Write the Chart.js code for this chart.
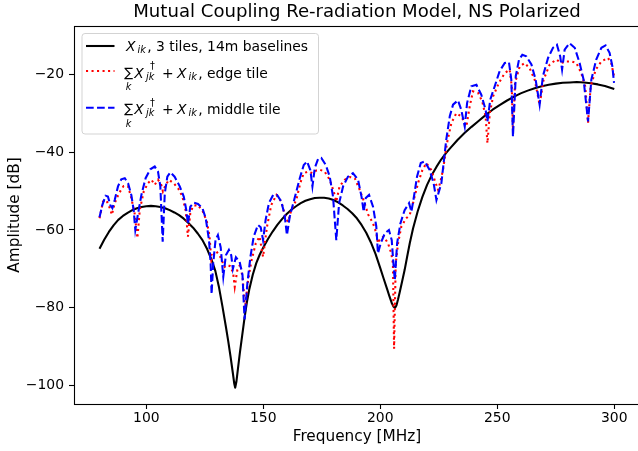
<!DOCTYPE html>
<html>
<head>
<meta charset="utf-8">
<title>Mutual Coupling Re-radiation Model, NS Polarized</title>
<script src="https://cdn.jsdelivr.net/npm/chart.js@4.4.1/dist/chart.umd.min.js"></script>
<style>
  html, body { margin: 0; padding: 0; background: #fff; overflow: hidden; }
  #wrap { width: 660px; height: 451px; }
</style>
</head>
<body>
<div id="wrap"><canvas id="mutualCouplingChart" width="660" height="451"></canvas></div>
<script>
// [frequency MHz, amplitude dB]
const crossCoupling = [
  [80, -64.8], [82, -62.5], [84, -60.5], [86, -58.8], [88, -57.4], [90, -56.4], [92, -55.6], [94, -54.9],
  [96, -54.4], [98, -54.1], [100, -53.9], [102, -53.8], [104, -53.9], [106, -54.1], [108, -54.4], [110, -54.9],
  [112, -55.5], [114, -56.2], [116, -57.1], [118, -58.2], [120, -59.4], [122, -60.9], [124, -62.6], [126, -64.9],
  [128, -67.8], [129.5, -70.5], [131, -74.5], [132.5, -79.5], [134, -84.8], [135, -88.5], [136, -92.5], [137, -96.8],
  [137.6, -99.5], [138, -100.5], [138.5, -99], [139.2, -95.5], [140, -91.5], [141, -87], [142, -82.5], [143, -78.5],
  [144, -75.3], [145.5, -71.5], [147, -68.5], [148.5, -66.3], [150, -64.5], [152, -62.3], [154, -60.4], [156, -58.7],
  [158, -57.2], [160, -55.9], [162, -54.8], [164, -53.9], [166, -53.1], [168, -52.5], [170, -52.1], [172, -51.8],
  [174, -51.7], [176, -51.7], [178, -51.9], [180, -52.3], [182, -52.9], [184, -53.7], [186, -54.6], [188, -55.7],
  [190, -57.0], [192, -58.7], [194, -60.7], [196, -63.2], [198, -66.2], [200, -69.8], [201.5, -72.6], [203, -75.3],
  [204, -77.2], [205, -78.9], [205.7, -79.7], [206.3, -80], [206.9, -79.4], [207.6, -77.8], [208.3, -76], [209.3, -73.3],
  [210.4, -70.3], [211.5, -66.8], [212.6, -63.4], [214, -59.6], [216, -55.2], [218, -51.5], [220, -48.4], [222, -45.9],
  [224, -43.8], [226, -41.9], [228, -40.3], [230, -38.9], [233, -36.9], [236, -35.1], [239, -33.5], [242, -32],
  [245, -30.5], [248, -29.1], [251, -27.9], [254, -26.8], [257, -25.8], [260, -24.9], [263, -24.2], [266, -23.6],
  [269, -23.1], [272, -22.7], [275, -22.4], [278, -22.2], [281, -22.1], [284, -22.0], [287, -22.1], [290, -22.3],
  [293, -22.6], [296, -23.0], [298, -23.4], [300, -23.8]
];

const edgeTile = [
  [80, -57], [81.5, -52.7], [82.9, -52.3], [84.4, -54.4], [85.3, -56.1], [86.5, -53.1], [88.3, -50.6], [90.3, -48.7],
  [92.2, -48.8], [93.6, -51.8], [95, -55.7], [96.2, -62.1], [97.2, -54.9], [98.9, -50.1], [100.7, -48], [102.2, -47.1],
  [103.6, -48.4], [105, -47.1], [106.4, -48.4], [107.1, -50.1], [108.3, -48.4], [109.7, -47.1], [111.7, -48], [113.6, -49.3],
  [115.4, -51.4], [116.8, -54.9], [117.8, -61.7], [118.8, -55.7], [120, -53.8], [122.1, -53.6], [124.2, -55.3], [125.9, -57.9],
  [127, -61.5], [127.8, -67.7], [128.5, -66.5], [130, -65.5], [131.6, -66.9], [133.5, -69.5], [134.6, -69], [135.9, -69.3],
  [137.1, -71], [137.8, -74.6], [138.9, -70.3], [140.2, -68.8], [141.2, -72.5], [142.2, -80], [143.5, -73], [144.9, -68],
  [146.8, -63.4], [148.4, -61.7], [149.9, -66.9], [151.6, -59.1], [153.4, -53.6], [155.6, -51], [157.7, -52.7], [159.6, -57],
  [160.6, -57.9], [162, -54.8], [164.1, -52.3], [165.8, -48], [167.3, -45.4], [169.1, -45], [171, -45.4], [172.7, -44.7],
  [174.1, -44.5], [176.2, -45], [178.4, -47.1], [180.1, -50.1], [181.2, -52.7], [182.6, -48.8], [184.8, -47.1], [187, -46.4],
  [189.1, -46.7], [191.2, -49.7], [193.3, -53.1], [194.8, -56], [196.9, -58.3], [198.3, -60.8], [199, -63.4], [200, -62.1],
  [201.5, -61.7], [203.3, -63.4], [204.7, -66], [205.4, -68.6], [205.9, -90.5], [206.6, -68.6], [207.6, -63.4], [209, -59.1],
  [211.1, -57], [212.6, -56.1], [214, -53.1], [216.1, -48], [218, -44.6], [219.7, -42.8], [221.8, -44.6], [223.7, -48],
  [224.7, -49.7], [225.7, -47.6], [226.8, -44.6], [228.5, -37.7], [230.4, -32.5], [232.5, -30], [234.6, -30.8], [236.8, -33.4],
  [238.2, -28.3], [239.6, -24.4], [241.8, -24.8], [243.6, -27], [245, -30.8], [245.8, -37.7], [246.8, -30], [248.2, -25.7],
  [250.7, -22.2], [253.2, -19.7], [255.3, -18.8], [256.2, -23.1], [256.7, -34.3], [257.6, -22.2], [259.6, -18], [261.7, -17.1],
  [263.8, -18.4], [266, -21.4], [268.1, -27.8], [269.8, -21.4], [272.4, -17.5], [275.2, -16.2], [277.4, -17.1], [279.2, -16.7],
  [281.6, -16.7], [283.8, -17.1], [285.9, -19.7], [287.6, -23.1], [288.8, -32.5], [289.9, -23.1], [292.1, -18.8], [294.5, -16.7],
  [297.3, -15.8], [298.7, -17.1], [299.9, -20.5]
];

const middleTile = [
  [80, -56.7], [81.2, -53.6], [82.6, -51.2], [83.6, -51.4], [84.6, -53.6], [85.5, -54.4], [86.5, -52.3], [87.9, -48.8],
  [89.3, -47], [90.8, -46.7], [92.2, -48], [93.6, -51], [94.6, -54.9], [95.3, -60], [96.5, -55.7], [97.9, -51],
  [99.7, -46.7], [101.7, -44.4], [103.6, -43.7], [105, -45], [106, -48.8], [107, -63], [107.9, -50.6], [109, -46.3],
  [110.3, -45.2], [112.1, -46.3], [114.3, -48.8], [116, -51.4], [117.1, -54.9], [117.8, -58.5], [118.8, -54], [120.3, -53],
  [122.1, -53.3], [124, -54.4], [125.4, -57], [126.8, -62.6], [127.5, -68.6], [127.9, -76.5], [128.6, -68.6], [129.6, -62.5],
  [130.6, -61.3], [131.8, -64.5], [132.9, -72], [134, -66.5], [135.3, -65.1], [136.3, -66.5], [137, -70], [138.3, -67],
  [139.9, -68.2], [141.1, -71.5], [142, -83], [143.2, -73.7], [144.5, -66.9], [145.9, -61.7], [147.7, -58.7], [148.9, -59.3],
  [149.9, -62.6], [151, -57.4], [152.4, -53.1], [154.2, -51], [155.9, -51], [157.7, -52.7], [159.1, -56.1], [160.1, -61.3],
  [161.3, -56.6], [163.4, -51.8], [165.6, -46.7], [167.3, -43.3], [168.7, -42.4], [170.1, -44.6], [171, -48.8], [172, -44.1],
  [173.4, -41.8], [174.8, -41.5], [176.7, -43.3], [178.4, -46.3], [179.8, -51.4], [181.2, -62.6], [182.4, -53.1], [184.1, -48.8],
  [186.2, -46.3], [188.3, -45.4], [190.5, -47.1], [192, -51.5], [192.9, -55.3], [193.8, -51.8], [195.2, -51], [196.9, -54],
  [198.3, -59.1], [199, -66], [200.2, -63.4], [201.9, -60.9], [203.7, -60], [204.9, -62.6], [205.4, -66.9], [206.2, -72.9],
  [207.2, -63.4], [208.6, -58.3], [210.4, -54.9], [212.3, -53.1], [213.3, -55.3], [214.4, -51.4], [215.7, -46.3], [217.3, -42.8],
  [219, -42.4], [221.1, -44.6], [222.8, -48], [224, -52.3], [226.1, -48], [228.2, -36.8], [229.7, -30.8], [231.1, -27.8],
  [233.2, -26.7], [234.6, -29.1], [236.1, -33.4], [237.1, -27.4], [238.9, -23.1], [241.1, -22.7], [243.2, -25.3], [245, -29.1],
  [245.8, -32.1], [247, -26.5], [248.9, -23.1], [251, -19.2], [253.2, -17.1], [255, -16.9], [256, -21.4], [256.7, -36],
  [257.9, -20.5], [259.3, -16.2], [260.7, -15], [262.4, -15.4], [264.6, -17.5], [266.4, -21.4], [268.1, -27.8], [269.5, -20.5],
  [271.7, -15.8], [273.8, -13.2], [275.5, -12.4], [276.9, -15.4], [277.7, -18.8], [278.8, -13.7], [280.9, -12], [283.1, -13.2],
  [285.2, -17.1], [286.9, -21.4], [288.8, -32.1], [290.2, -21.4], [292.3, -16.2], [294.5, -13.2], [296.3, -12.6], [298, -14.5],
  [299.2, -18], [299.9, -22.2]
];

const xTickValues = [100, 150, 200, 250, 300];
const yTickValues = [-100, -80, -60, -40, -20];

const FONT = '"DejaVu Sans"';
const TEXT_PX = 13.9;
const SUB_PX = 9.7;
const LW = 2.08; // 1.5pt at 100 dpi

const toPoints = (rows) => rows.map(([x, y]) => ({ x, y }));
const minusSign = (v) => String(v).replace('-', '\u2212');

// draw text so that its ink starts at inkLeft; returns ink right edge
function inkText(ctx, text, size, italic, inkLeft, baseline) {
  ctx.font = (italic ? 'italic ' : '') + size + 'px ' + FONT;
  const m = ctx.measureText(text);
  const x = inkLeft + m.actualBoundingBoxLeft;
  ctx.fillText(text, x, baseline);
  return x + m.actualBoundingBoxRight;
}

function drawSum(ctx, inkLeft, inkTop, inkHeight) {
  ctx.font = TEXT_PX + 'px ' + FONT;
  let m = ctx.measureText('\u2211');
  const size = TEXT_PX * inkHeight / (m.actualBoundingBoxAscent + m.actualBoundingBoxDescent);
  ctx.font = size + 'px ' + FONT;
  m = ctx.measureText('\u2211');
  const x = inkLeft + m.actualBoundingBoxLeft;
  ctx.fillText('\u2211', x, inkTop + m.actualBoundingBoxAscent);
  return inkLeft + (m.actualBoundingBoxLeft + m.actualBoundingBoxRight) / 2;
}

function drawSumRow(ctx, base, tail) {
  const center = drawSum(ctx, 124.3, base - 11, 12.3);
  ctx.font = 'italic ' + SUB_PX + 'px ' + FONT;
  const mk = ctx.measureText('k');
  inkText(ctx, 'k', SUB_PX, true, center - (mk.actualBoundingBoxLeft + mk.actualBoundingBoxRight) / 2, base + 12.5);
  inkText(ctx, 'X', TEXT_PX, true, 133.3, base);
  inkText(ctx, '\u2020', SUB_PX, false, 150, base - 8.5);
  inkText(ctx, 'jk', SUB_PX, true, 144, base + 1.8);
  inkText(ctx, '+', TEXT_PX, false, 163, base);
  const xr = inkText(ctx, 'X', TEXT_PX, true, 176, base);
  const ir = inkText(ctx, 'ik', SUB_PX, true, xr + 1.5, base + 2);
  inkText(ctx, tail, TEXT_PX, false, ir + 2, base);
}

function handle(ctx, y, color, dash) {
  ctx.save();
  ctx.strokeStyle = color;
  ctx.lineWidth = LW;
  ctx.lineCap = 'butt';
  ctx.setLineDash(dash);
  ctx.beginPath();
  ctx.moveTo(86, y);
  ctx.lineTo(114.5, y);
  ctx.stroke();
  ctx.restore();
}

// top/right spines (matplotlib box)
const frame = {
  id: 'frame',
  afterDraw(chart) {
    const { ctx, chartArea: a } = chart;
    ctx.save();
    ctx.strokeStyle = '#000';
    ctx.lineWidth = 1.1;
    ctx.strokeRect(a.left + 0.5, a.top + 0.5, a.right - a.left, a.bottom - a.top);
    ctx.restore();
  }
};

// legend with the math labels, matplotlib style
const mathLegend = {
  id: 'mathLegend',
  afterDraw(chart) {
    const ctx = chart.ctx;
    ctx.save();
    ctx.beginPath();
    ctx.roundRect(82, 33.5, 236.5, 100.5, 3);
    ctx.fillStyle = 'rgba(255,255,255,0.8)';
    ctx.fill();
    ctx.strokeStyle = '#d3d3d3';
    ctx.lineWidth = 1;
    ctx.stroke();

    handle(ctx, 46, '#000000', []);
    handle(ctx, 71, '#ff0000', [LW, 1.65 * LW]);
    handle(ctx, 107.7, '#0000ff', [3.7 * LW, 1.6 * LW]);

    ctx.fillStyle = '#000';
    ctx.textBaseline = 'alphabetic';
    ctx.textAlign = 'left';
    const xr = inkText(ctx, 'X', TEXT_PX, true, 125, 51);
    const ir = inkText(ctx, 'ik', SUB_PX, true, xr + 1.5, 53);
    inkText(ctx, ', 3 tiles, 14m baselines', TEXT_PX, false, ir + 2, 51);

    drawSumRow(ctx, 77.7, ', edge tile');
    drawSumRow(ctx, 114.2, ', middle tile');
    ctx.restore();
  }
};

const tickFont = { family: 'DejaVu Sans', size: TEXT_PX };
const labelFont = { family: 'DejaVu Sans', size: 15.3 };
const tickGrid = { display: true, drawOnChartArea: false, drawTicks: true, tickLength: 5, tickWidth: 1.1, tickColor: '#000' };

const ctx = document.getElementById('mutualCouplingChart').getContext('2d');
new Chart(ctx, {
  type: 'line',
  data: {
    datasets: [
      {
        label: 'X_ik, 3 tiles, 14m baselines',
        data: toPoints(crossCoupling),
        borderColor: '#000000',
        borderWidth: LW,
        borderJoinStyle: 'round',
        pointRadius: 0,
        order: 2,
      },
      {
        label: 'sum_k X_jk^dagger + X_ik, edge tile',
        data: toPoints(edgeTile),
        borderColor: '#ff0000',
        borderWidth: LW,
        borderDash: [LW, 1.65 * LW],
        pointRadius: 0,
        order: 1,
      },
      {
        label: 'sum_k X_jk^dagger + X_ik, middle tile',
        data: toPoints(middleTile),
        borderColor: '#0000ff',
        borderWidth: LW,
        borderDash: [3.7 * LW, 1.6 * LW],
        pointRadius: 0,
        order: 0,
      },
    ],
  },
  options: {
    responsive: false,
    animation: false,
    layout: { padding: { left: 0, right: 20, top: 0, bottom: 0 } },
    plugins: {
      legend: { display: false },
      tooltip: { enabled: false },
      title: {
        display: true,
        fullSize: false,
        text: 'Mutual Coupling Re-radiation Model, NS Polarized',
        color: '#000',
        font: { family: 'DejaVu Sans', size: 18.1, weight: 'normal', lineHeight: '20px' },
        padding: { top: 2.3, bottom: 3.7 },
      },
    },
    scales: {
      x: {
        type: 'linear',
        min: 69.1,
        max: 311,
        afterBuildTicks: (axis) => { axis.ticks = xTickValues.map((value) => ({ value })); },
        afterFit: (scale) => { scale.height = 47; },
        grid: tickGrid,
        border: { display: false },
        ticks: { color: '#000', font: tickFont, padding: 1, maxRotation: 0, autoSkip: false },
        title: { display: true, text: 'Frequency [MHz]', color: '#000', font: labelFont, padding: { top: 0, bottom: 5.1 } },
      },
      y: {
        type: 'linear',
        min: -104.7,
        max: -7.6,
        afterBuildTicks: (axis) => { axis.ticks = yTickValues.map((value) => ({ value })); },
        afterFit: (scale) => { scale.width = 74; },
        grid: tickGrid,
        border: { display: false },
        ticks: { color: '#000', font: tickFont, padding: 5, callback: minusSign },
        title: { display: true, text: 'Amplitude [dB]', color: '#000', font: labelFont, padding: { top: 6, bottom: 0 } },
      },
    },
  },
  plugins: [frame, mathLegend],
});
</script>
</body>
</html>
